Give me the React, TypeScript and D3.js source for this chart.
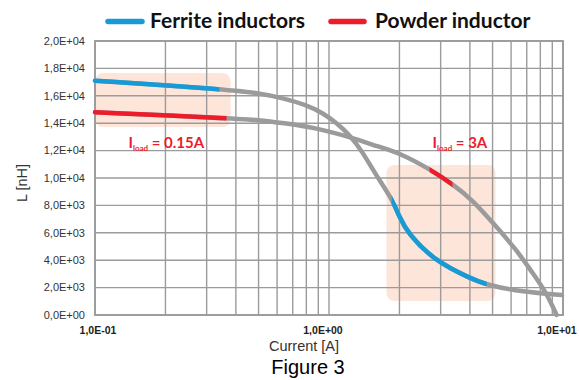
import React, { useEffect } from "react";
import * as d3 from "d3";

// ---- data ----
const ferriteCurrent = [0.1, 0.34, 0.505, 0.633, 0.802, 0.939, 1.078, 1.225, 1.392, 1.566, 1.851, 2.0, 2.167, 2.83, 4.0, 4.72, 6.72, 9.9];
const ferriteL = [17100, 16500, 16200, 15840, 15330, 14750, 14015, 13140, 11900, 10370, 8540, 7150, 5985, 3940, 2700, 2190, 1680, 1460];
const powderCurrent = [0.1, 0.365, 0.505, 0.633, 0.885, 1.225, 1.645, 2.003, 2.69, 3.37, 4.11, 5.2, 6.33, 7.41, 8.51, 9.39];
const powderL = [14800, 14380, 14230, 14015, 13650, 12990, 12260, 11820, 10660, 9560, 8390, 6420, 4750, 3070, 1610, 0];

const ferriteHighlights = [[0.1, 0.34], [1.851, 4.72]];
const powderHighlights = [[0.1, 0.365], [2.69, 3.37]];

// highlight boxes: [currentMin, currentMax], [Lmin, Lmax]
const boxCurrent = [[0.1, 0.38], [1.76, 5.15]];
const boxL = [[13720, 17660], [1020, 10950]];

const loadLabels = ["0.15A", "3A"];
const loadLabelCurrent = [0.139, 2.77];
const loadLabelL = [12190, 12190];

const yTicks = [0, 2000, 4000, 6000, 8000, 10000, 12000, 14000, 16000, 18000, 20000];
const xLabelTicks = [0.1, 1, 10];

const legendNames = ["Ferrite inductors", "Powder inductor"];

const GRAY = "#9b9b9b";
const BLUE = "#169bd7";
const RED = "#ec1c2b";

function fmtE(v: number): string {
  if (v === 0) return "0,0E+00";
  const e = Math.floor(Math.log10(v) + 1e-9);
  const m = v / Math.pow(10, e);
  return `${m.toFixed(1).replace(".", ",")}E${e < 0 ? "-" : "+"}${String(Math.abs(e)).padStart(2, "0")}`;
}

export default function App() {
  useEffect(() => {
    document.body.style.margin = "0";
  }, []);

  const W = 579, H = 380;
  const x = d3.scaleLog().domain([0.1, 10]).range([95, 563]);
  const y = d3.scaleLinear().domain([0, 20000]).range([315, 41]);

  const line = d3
    .line<[number, number]>()
    .x((d) => x(d[0]))
    .y((d) => y(d[1]))
    .curve(d3.curveBasis);

  const ferritePts: [number, number][] = ferriteCurrent.map((c, i) => [c, ferriteL[i]]);
  const powderPts: [number, number][] = powderCurrent.map((c, i) => [c, powderL[i]]);
  const ferritePath = line(ferritePts) || "";
  const powderPath = line(powderPts) || "";

  const gridX = x.ticks();

  return (
    <svg width={W} height={H} style={{ position: "absolute", left: 0, top: 0, background: "#fff" }}
      fontFamily="'Liberation Sans', Arial, sans-serif">
      <defs>
        {ferriteHighlights.map((r, i) => (
          <clipPath id={`fclip${i}`} key={`fc${i}`}>
            <rect x={i === 0 ? x(r[0]) - 6 : x(r[0])} y={0} width={x(r[1]) - x(r[0]) + (i === 0 ? 6 : 0)} height={H} />
          </clipPath>
        ))}
        {powderHighlights.map((r, i) => (
          <clipPath id={`pclip${i}`} key={`pc${i}`}>
            <rect x={i === 0 ? x(r[0]) - 6 : x(r[0])} y={0} width={x(r[1]) - x(r[0]) + (i === 0 ? 6 : 0)} height={H} />
          </clipPath>
        ))}
      </defs>

      {/* highlight boxes */}
      {boxCurrent.map((bc, i) => (
        <rect key={`box${i}`} x={x(bc[0])} y={y(boxL[i][1])} width={x(bc[1]) - x(bc[0])}
          height={y(boxL[i][0]) - y(boxL[i][1])} rx={8} fill="#fde5da" />
      ))}

      {/* grid */}
      {gridX.map((t, i) => (
        <line key={`gx${i}`} x1={x(t)} x2={x(t)} y1={y(20000)} y2={y(0)} stroke={GRAY} strokeWidth={1.4} />
      ))}
      {yTicks.map((t, i) => (
        <line key={`gy${i}`} x1={x(0.1)} x2={x(10)} y1={y(t)} y2={y(t)} stroke={GRAY} strokeWidth={1.4} />
      ))}
      <rect x={x(0.1)} y={y(20000)} width={x(10) - x(0.1)} height={y(0) - y(20000)} fill="none" stroke={GRAY} strokeWidth={1.8} />

      {/* y tick labels */}
      {yTicks.map((t, i) => (
        <text key={`yl${i}`} x={85} y={y(t)} dy="0.35em" textAnchor="end" fontSize={11} fill="#333">
          {fmtE(t)}
        </text>
      ))}
      {/* x tick labels */}
      {xLabelTicks.map((t, i) => (
        <text key={`xl${i}`} x={x(t) + (i === 0 ? 3 : -6)} y={334} textAnchor="middle" fontSize={10.5} fontWeight="bold" fill="#222">
          {fmtE(t)}
        </text>
      ))}

      {/* axis titles */}
      <text x={0} y={0} transform={`translate(27,183) rotate(-90)`} textAnchor="middle" fontSize={14.5} fill="#333">
        L [nH]
      </text>
      <text x={304} y={351} textAnchor="middle" fontSize={14.5} fill="#333">Current [A]</text>
      <text x={308} y={374} textAnchor="middle" fontSize={20} fill="#000">Figure 3</text>

      {/* curves */}
      <path d={ferritePath} fill="none" stroke={GRAY} strokeWidth={4.5} strokeLinecap="round" />
      <path d={powderPath} fill="none" stroke={GRAY} strokeWidth={4.5} strokeLinecap="round" />
      {ferriteHighlights.map((_, i) => (
        <path key={`fh${i}`} d={ferritePath} fill="none" stroke={BLUE} strokeWidth={4.5} strokeLinecap="round" clipPath={`url(#fclip${i})`} />
      ))}
      {powderHighlights.map((_, i) => (
        <path key={`ph${i}`} d={powderPath} fill="none" stroke={RED} strokeWidth={4.5} strokeLinecap="round" clipPath={`url(#pclip${i})`} />
      ))}

      {/* load labels */}
      {loadLabels.map((lab, i) => (
        <text key={`ll${i}`} x={x(loadLabelCurrent[i])} y={y(loadLabelL[i])} fontFamily="Lato, sans-serif" fontWeight="bold" fontSize={15} fill={RED}>
          I<tspan fontSize={8} dy={3}>load</tspan><tspan dy={-3}>{` = ${lab}`}</tspan>
        </text>
      ))}

      {/* legend */}
      <line x1={108} x2={142} y1={21.5} y2={21.5} stroke={BLUE} strokeWidth={5.5} strokeLinecap="round" />
      <text x={150} y={28} fontFamily="Lato, sans-serif" fontWeight="bold" fontSize={21} fill="#111">{legendNames[0]}</text>
      <line x1={331} x2={364} y1={21.5} y2={21.5} stroke={RED} strokeWidth={5.5} strokeLinecap="round" />
      <text x={375} y={28} fontFamily="Lato, sans-serif" fontWeight="bold" fontSize={21} fill="#111">{legendNames[1]}</text>
    </svg>
  );
}
